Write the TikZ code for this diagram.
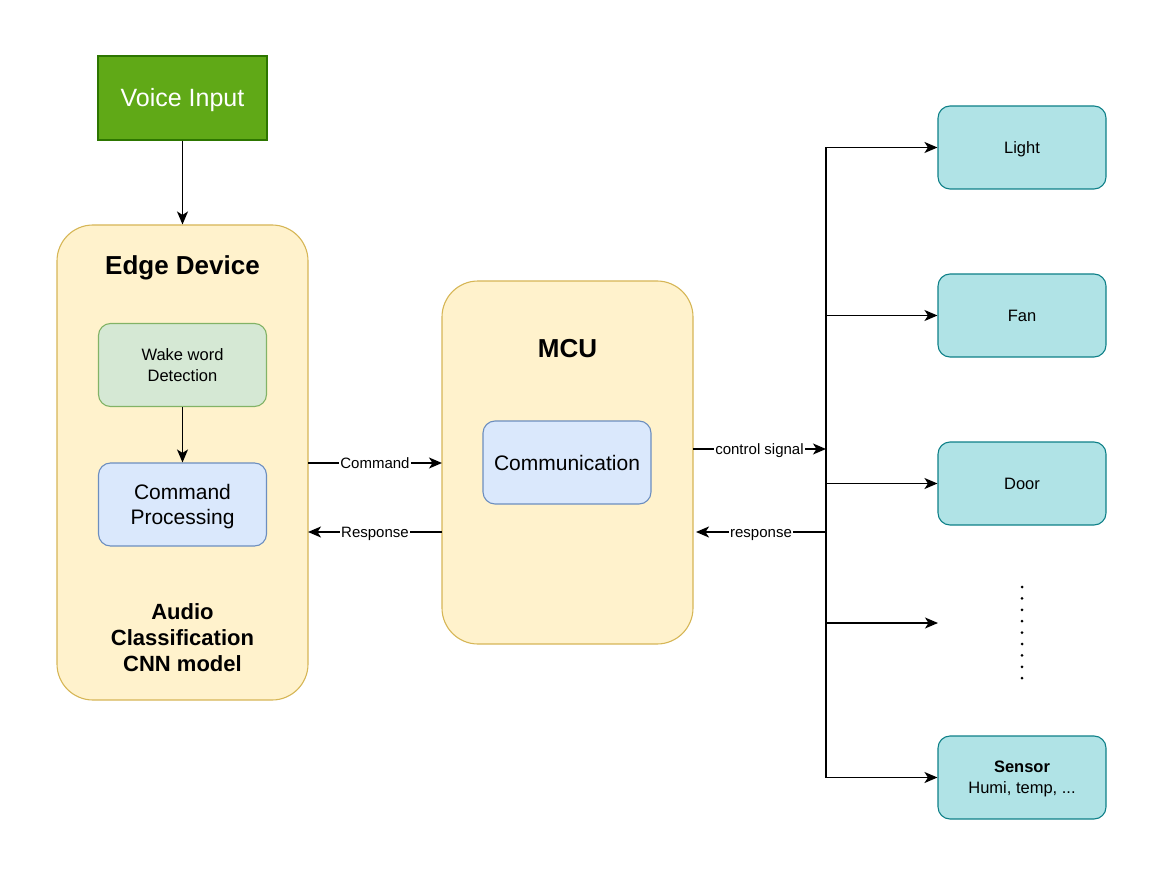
\documentclass[tikz,border=0pt]{standalone}
\usepackage{fontspec}
\setmainfont{Liberation Sans}
\usetikzlibrary{arrows.meta}
\definecolor{vfill}{HTML}{60A917}
\definecolor{vline}{HTML}{2D7600}
\definecolor{yfill}{HTML}{FFF2CC}
\definecolor{yline}{HTML}{D6B656}
\definecolor{gfill}{HTML}{D5E8D4}
\definecolor{gline}{HTML}{82B366}
\definecolor{bfill}{HTML}{DAE8FC}
\definecolor{bline}{HTML}{6C8EBF}
\definecolor{tfill}{HTML}{B0E3E6}
\definecolor{tline}{HTML}{0E8088}
\newcommand{\fs}[1]{\fontsize{#1}{#1}\selectfont}
\tikzset{
  box/.style={draw, line width=1.1pt, rounded corners=12pt, minimum width=168pt, minimum height=83pt, align=center, inner sep=2pt},
  bigbox/.style={draw=yline, fill=yfill, line width=1.1pt, rounded corners=36pt, minimum width=251pt},
  devbox/.style={box, draw=tline, fill=tfill, font=\fs{16.5}, text height=11.8pt, text depth=0pt},
  conn/.style={line width=1.6pt, -{Stealth[length=13pt,width=11pt,inset=3.5pt]}},
  plain/.style={line width=1.6pt},
  lbl/.style={fill=white, inner sep=1.5pt, font=\fs{15}, text height=10.7pt, text depth=0pt}
}
\begin{document}
\begin{tikzpicture}[x=1pt,y=-1pt]
\useasboundingbox (0,0) rectangle (1164,877);
% big containers
\node[bigbox, minimum height=475pt] (edge) at (182.5,462.5) {};
\node[bigbox, minimum height=363pt] (mcu) at (567.5,462.5) {};
\node[font=\bfseries\fs{26}] (edgetitle) at (182.5,268) {Edge Device};
\node[font=\bfseries\fs{22}, align=center, text depth=0pt] (cnn) at (182.5,638) {Audio\\[4pt]Classification\\[4pt]CNN model};
\node[font=\bfseries\fs{26}] (mcutitle) at (567.5,349) {MCU};
% inner boxes
\node[box, draw=vline, fill=vfill, rounded corners=0pt, minimum width=169pt, minimum height=84pt, text=white, font=\fs{25}, text height=17.9pt, text depth=0pt] (voice) at (182.5,98) {Voice Input};
\node[box, draw=gline, fill=gfill, font=\fs{16.5}] (wake) at (182.5,365) {Wake word\\[4.5pt]Detection};
\node[box, draw=bline, fill=bfill, font=\fs{21}, text depth=0pt] (proc) at (182.5,504.5) {Command\\[4pt]Processing};
\node[box, draw=bline, fill=bfill, font=\fs{21}] (comm) at (567,462.5) {Communication};
% devices
\node[devbox] (light) at (1022,147.5) {Light};
\node[devbox] (fan) at (1022,315.5) {Fan};
\node[devbox] (door) at (1022,483.5) {Door};
\node[devbox, text height=, text depth=0pt] (sensor) at (1022,777.5) {\textbf{Sensor}\\[4.5pt]Humi, temp, ...};
% coordinates
\coordinate (ttop) at (826,147.5);
\coordinate (tbot) at (826,777.5);
\coordinate (tfan) at (826,315.5);
\coordinate (tdoor) at (826,483.5);
\coordinate (tmore) at (826,623);
\coordinate (more) at (938,623);
\coordinate (tctl) at (826,449);
\coordinate (tresp) at (826,532);
\coordinate (mctl) at (693,449);
\coordinate (mresp) at (696,532);
\coordinate (ecmd) at (308,463);
\coordinate (mcmd) at (442,463);
\coordinate (mrsp) at (442,532);
\coordinate (ersp) at (308,532);
% vertical arrows
\draw[conn] (voice.south) -- (edge.north);
\draw[conn] (wake.south) -- (proc.north);
% edge <-> mcu
\draw[conn] (ecmd) -- node[lbl] {Command} (mcmd);
\draw[conn] (mrsp) -- node[lbl] {Response} (ersp);
% mcu <-> trunk
\draw[conn] (mctl) -- node[lbl] {control signal} (tctl);
\draw[conn] (tresp) -- node[lbl] {response} (mresp);
% trunk
\draw[plain] (ttop) -- (tbot);
\draw[conn] (ttop) -- (light.west);
\draw[conn] (tfan) -- (fan.west);
\draw[conn] (tdoor) -- (door.west);
\draw[conn] (tmore) -- (more);
\draw[conn] (tbot) -- (sensor.west);
% dots
\foreach \i in {0,...,8} {
  \fill (1022,587+\i*11.4) circle (1.5pt);
}
\end{tikzpicture}
\end{document}
